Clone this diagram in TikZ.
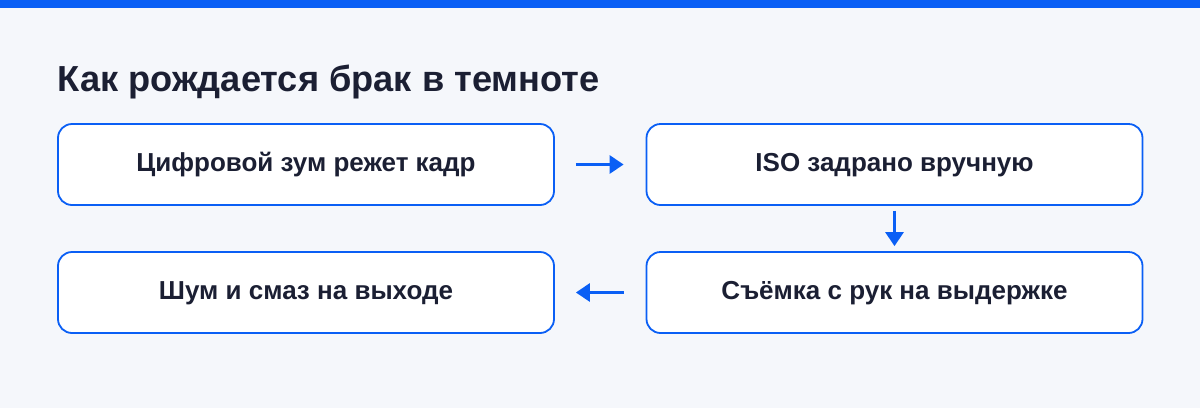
\documentclass[tikz,border=0pt]{standalone}
\usepackage{fontspec}
\setmainfont{Liberation Sans}
\usetikzlibrary{arrows.meta}
\definecolor{bg}{HTML}{F5F7FB}
\definecolor{accent}{HTML}{0A5FF5}
\definecolor{ink}{HTML}{1B1F33}
\begin{document}
\begin{tikzpicture}[x=1pt,y=-1pt,
  box/.style={draw=accent, line width=1.8pt, fill=white, rounded corners=14pt,
    minimum width=496pt, minimum height=81pt, inner sep=0pt,
    text height=18.6pt, text depth=5.6pt,
    font=\bfseries\fontsize{26}{30}\selectfont, text=ink},
  flow/.style={draw=accent, line width=3pt, -{Triangle[length=14pt,width=18pt]}},
  titlestyle/.style={font=\bfseries\fontsize{36.2}{42}\selectfont, text=ink, inner sep=0pt}]
\fill[bg] (0,0) rectangle (1200,408);
\fill[accent] (0,0) rectangle (1200,8);
\useasboundingbox (0,0) rectangle (1200,408);
\node[titlestyle, anchor=base west] (title) at (57.5,91) {Как рождается брак в темноте};
\node[box] (a) at (306,164.5) {Цифровой зум режет кадр};
\node[box] (b) at (894.5,164.5) {ISO задрано вручную};
\node[box] (c) at (894.5,292.5) {Съёмка с рук на выдержке};
\node[box] (d) at (306,292.5) {Шум и смаз на выходе};
\draw[flow, shorten <=21pt, shorten >=22pt] (a) -- (b);
\draw[flow, shorten <=5pt, shorten >=5pt] (b) -- (c);
\draw[flow, shorten <=22pt, shorten >=21pt] (c) -- (d);
\end{tikzpicture}
\end{document}
